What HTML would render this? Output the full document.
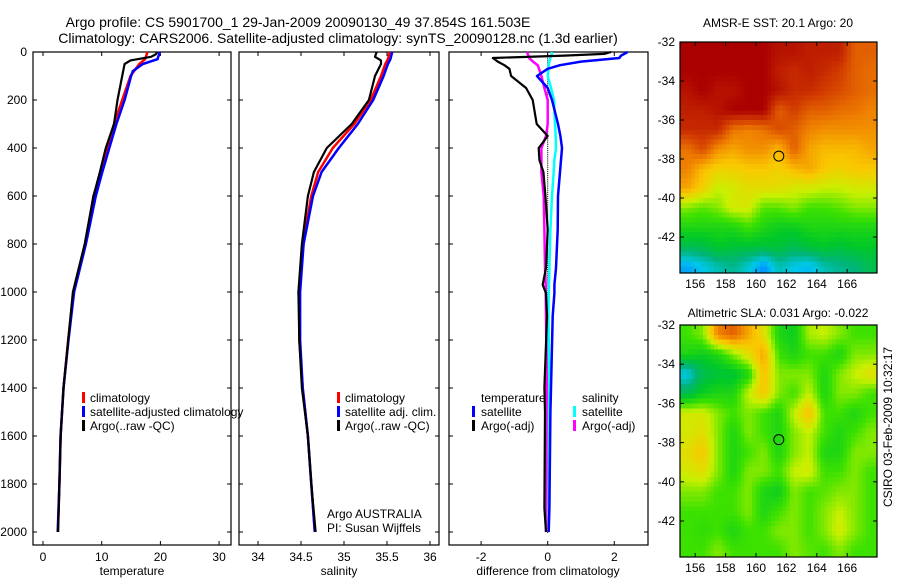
<!DOCTYPE html>
<html><head><meta charset="utf-8">
<style>
html,body{margin:0;padding:0;background:#fff;}
svg{display:block;font-family:"Liberation Sans",Arial,sans-serif;}
</style></head>
<body>
<svg id="chart" width="900" height="580" viewBox="0 0 900 580" xmlns="http://www.w3.org/2000/svg">
<text x="298" y="27" font-size="14" text-anchor="middle">Argo profile: CS 5901700_1 29-Jan-2009 20090130_49 37.854S 161.503E</text>
<text x="338" y="43" font-size="14" text-anchor="middle">Climatology: CARS2006. Satellite-adjusted climatology: synTS_20090128.nc (1.3d earlier)</text>
<text x="778" y="27" font-size="12" text-anchor="middle">AMSR-E SST: 20.1 Argo: 20</text>
<text x="778" y="317" font-size="12" text-anchor="middle">Altimetric SLA: 0.031 Argo: -0.022</text>
<text transform="translate(892,427) rotate(-90)" font-size="12" text-anchor="middle">CSIRO 03-Feb-2009 10:32:17</text>
<g id="g"></g>
</svg>
<script>
// ---------- data ----------
const depthTop = [0,30,50,100,200,300,400,500,600,800,1000,1200,1400,1600,1800,2000];
const tempClim = [17.8,17.4,16.4,14.9,13.5,12.1,11.0,9.9,8.6,7.2,5.2,4.3,3.5,3.0,2.8,2.55];
const depthSat = [0,30,50,80,100,200,300,400,500,600,800,1000,1200,1400,1600,1800,2000];
const tempSat  = [19.9,19.5,17.0,15.3,15.0,13.9,12.5,11.3,10.1,9.0,7.3,5.3,4.35,3.5,3.0,2.8,2.5];
const depthArgo = [0,10,20,35,50,100,200,300,400,500,600,800,1000,1200,1400,1600,1800,2000];
const tempArgo  = [19.5,19.2,18.4,14.9,13.9,13.5,12.7,12.1,10.7,9.7,8.6,7.1,5.1,4.3,3.5,3.0,2.8,2.55];
const salClim = [35.53,35.51,35.48,35.43,35.31,35.12,34.87,34.70,34.62,34.52,34.48,34.48,34.52,34.58,34.62,34.66];
const salSat  = [35.56,35.54,35.51,35.48,35.46,35.34,35.16,34.94,34.74,34.64,34.53,34.49,34.49,34.52,34.58,34.62,34.66];
const salArgo = [35.38,35.37,35.36,35.43,35.43,35.36,35.29,35.09,34.80,34.65,34.58,34.51,34.47,34.48,34.51,34.58,34.62,34.67];
const depthDiff = [0,8,15,25,40,55,70,100,150,200,300,350,400,450,500,600,740,900,970,1005,1100,1400,1500,1900,2000];
const diffTempArgo = [1.9,1.7,0.5,-1.65,-1.5,-1.3,-1.15,-1.1,-0.65,-0.45,-0.33,0,-0.27,-0.25,-0.13,-0.07,0,-0.05,-0.15,-0.05,-0.02,-0.1,-0.08,-0.1,-0.05];
const diffTempSat  = [2.4,2.3,2.2,2.15,1.0,0.37,0,-0.32,0,0.13,0.31,0.38,0.43,0.4,0.37,0.31,0.3,0.25,0.2,0.2,0.15,0.1,0.08,0.05,0.03];
const diffSalSat   = [0.13,0.12,0.1,0.08,0.05,0.03,0.02,0,0.1,0.19,0.22,0.24,0.25,0.2,0.18,0.13,0.08,0.05,0.04,0.03,0.02,0.05,0.04,0.03,0.03];
const diffSalArgo  = [-0.62,-0.6,-0.58,-0.56,-0.44,-0.3,-0.26,-0.19,-0.1,0,0,-0.05,-0.19,-0.19,-0.19,-0.12,-0.1,-0.08,-0.06,-0.06,-0.05,-0.03,-0.03,-0.05,-0.05];
const depthTicks = [0,200,400,600,800,1000,1200,1400,1600,1800,2000];
const tempTicks = [0,10,20,30];
const salTicks = [34,34.5,35,35.5,36];
const diffTicks = [-2,0,2];
const lonTicks = [156,158,160,162,164,166];
const latTicks = [-32,-34,-36,-38,-40,-42];
const mapLons = [155,156,157,158,159,160,161,162,163,164,165,166,167];
const mapLats = [-32,-33,-34,-35,-36,-37,-38,-39,-40,-41,-42,-43];
const sstGrid = [
[1,1,1,1,1,1,0.97,0.97,0.95,0.95,0.95,0.85,0.85],
[1,1,1,1,1,1,0.95,0.93,0.95,0.93,0.9,0.85,0.83],
[0.97,1,0.97,0.97,1,1,0.97,0.93,0.93,0.9,0.88,0.85,0.83],
[0.95,0.95,0.97,1,1,1,0.85,0.9,0.85,0.85,0.83,0.82,0.8],
[0.93,0.93,0.93,0.82,0.8,0.82,0.88,0.85,0.8,0.78,0.78,0.78,0.78],
[0.82,0.88,0.78,0.75,0.78,0.78,0.72,0.85,0.75,0.72,0.72,0.72,0.75],
[0.8,0.72,0.68,0.68,0.7,0.7,0.68,0.72,0.75,0.7,0.68,0.7,0.7],
[0.75,0.68,0.6,0.62,0.65,0.65,0.65,0.62,0.62,0.6,0.6,0.62,0.62],
[0.55,0.52,0.55,0.62,0.62,0.52,0.52,0.55,0.5,0.5,0.52,0.55,0.55],
[0.45,0.45,0.45,0.45,0.5,0.45,0.42,0.42,0.45,0.45,0.45,0.45,0.45],
[0.35,0.36,0.4,0.38,0.38,0.38,0.38,0.35,0.38,0.4,0.38,0.4,0.4],
[0.15,0.2,0.25,0.28,0.22,0.12,0.25,0.2,0.18,0.25,0.28,0.3,0.35]];
const slaGrid = [
[0.5,0.55,0.8,0.85,0.75,0.65,0.45,0.42,0.58,0.6,0.55,0.5,0.5],
[0.45,0.42,0.45,0.55,0.65,0.75,0.5,0.45,0.5,0.5,0.45,0.55,0.55],
[0.2,0.35,0.38,0.38,0.45,0.72,0.55,0.55,0.55,0.45,0.55,0.6,0.65],
[0.35,0.42,0.45,0.45,0.6,0.7,0.55,0.5,0.6,0.45,0.55,0.55,0.5],
[0.62,0.62,0.55,0.5,0.55,0.5,0.45,0.6,0.72,0.5,0.5,0.45,0.5],
[0.62,0.65,0.55,0.45,0.55,0.5,0.45,0.55,0.6,0.5,0.45,0.5,0.55],
[0.65,0.7,0.55,0.45,0.5,0.55,0.45,0.55,0.6,0.45,0.45,0.55,0.55],
[0.62,0.65,0.55,0.45,0.55,0.55,0.5,0.6,0.62,0.5,0.5,0.55,0.5],
[0.55,0.55,0.5,0.5,0.55,0.45,0.42,0.55,0.5,0.52,0.55,0.55,0.5],
[0.5,0.5,0.5,0.5,0.55,0.45,0.5,0.55,0.5,0.55,0.6,0.55,0.5],
[0.5,0.48,0.5,0.45,0.5,0.5,0.55,0.55,0.5,0.55,0.62,0.55,0.5],
[0.5,0.5,0.55,0.5,0.5,0.5,0.5,0.55,0.52,0.5,0.55,0.5,0.5]];
const floatLon = 161.5, floatLat = -37.85;

// ---------- helpers ----------
const NS='http://www.w3.org/2000/svg';
const G=document.getElementById('g');
function mk(tag,attrs,parent){const e=document.createElementNS(NS,tag);for(const k in attrs)e.setAttribute(k,attrs[k]);(parent||G).appendChild(e);return e;}
const yD = d => 52 + 0.24*d;
const xT = t => 43 + 5.87*t;
const xS = s => 258 + 86*(s-34);
const xDf = v => 547.7 + 33.3*v;
const Y0=52, Y1=545;
function line(xs,ds,fx,color,w,name){
  const pts = xs.map((v,i)=>fx(v).toFixed(1)+','+yD(ds[i]).toFixed(1)).join(' ');
  const p=mk('polyline',{points:pts,fill:'none',stroke:color,'stroke-width':w,'stroke-linejoin':'round'});
  
  
}
function panel(x0,x1,name,leftLabels){
  const r=mk('rect',{x:x0,y:Y0,width:x1-x0,height:Y1-Y0,fill:'none',stroke:'#000','stroke-width':1.2});
  
  
  depthTicks.forEach(d=>{
    mk('line',{x1:x0,x2:x0+4,y1:yD(d),y2:yD(d),stroke:'#000'});
    mk('line',{x1:x1-4,x2:x1,y1:yD(d),y2:yD(d),stroke:'#000'});
    if(leftLabels){
      const t=mk('text',{x:x0-6,y:yD(d)+4,'font-size':12,'text-anchor':'end'});
      t.textContent=d;
      
      
    }
  });
}
function xticks(ticks,fx,fmt){
  ticks.forEach(v=>{
    mk('line',{x1:fx(v),x2:fx(v),y1:Y1,y2:Y1-4,stroke:'#000'});
    mk('line',{x1:fx(v),x2:fx(v),y1:Y0,y2:Y0+4,stroke:'#000'});
    const t=mk('text',{x:fx(v),y:561,'font-size':12,'text-anchor':'middle'});
    t.textContent=fmt(v);
    
    
  });
}
function label(x,y,txt,name,anchor){
  const t=mk('text',{x:x,y:y,'font-size':12,'text-anchor':anchor||'start'});
  t.textContent=txt;
  
  
}
function legendBar(x,y,color){mk('rect',{x:x,y:y-10,width:3,height:11,fill:color});}

// ---------- panel 1 temperature ----------
panel(33,231,'temperature-panel',true);
xticks(tempTicks,xT,v=>v);
label(132,575,'temperature','temperature-axis-title','middle');
line(tempClim,depthTop,xT,'#f00',2.5,'temp-climatology-line');
line(tempSat,depthSat,xT,'#00f',2.5,'temp-satellite-line');
line(tempArgo,depthArgo,xT,'#000',2.2,'temp-argo-line');
legendBar(82,402,'#f00');label(90,402,'climatology','legend-climatology');
legendBar(82,416,'#00f');label(90,416,'satellite-adjusted climatology','legend-satellite-adjusted');
legendBar(82,430,'#000');label(90,430,'Argo(..raw -QC)','legend-argo');

// ---------- panel 2 salinity ----------
panel(239,439,'salinity-panel',false);
xticks(salTicks,xS,v=>v);
label(339,575,'salinity','salinity-axis-title','middle');
line(salClim,depthTop,xS,'#f00',2.5,'sal-climatology-line');
line(salSat,depthSat,xS,'#00f',2.5,'sal-satellite-line');
line(salArgo,depthArgo,xS,'#000',2.2,'sal-argo-line');
legendBar(337,402,'#f00');label(345,402,'climatology','legend-climatology-2');
legendBar(337,416,'#00f');label(345,416,'satellite adj. clim.','legend-satellite-adj-2');
legendBar(337,430,'#000');label(345,430,'Argo(..raw -QC)','legend-argo-2');
label(327,518,'Argo AUSTRALIA','argo-australia-note');
label(327,532,'PI: Susan Wijffels','pi-note');

// ---------- panel 3 differences ----------
panel(449,648,'difference-panel',false);
xticks(diffTicks,xDf,v=>v);
label(548,575,'difference from climatology','difference-axis-title','middle');
for(let d=0; d<=2000; d+=8){mk('rect',{x:xDf(0)-0.5,y:yD(d),width:1,height:1,fill:'#000'});}
line(diffSalArgo,depthDiff,xDf,'#f0f',2.5,'diff-sal-argo-line');
line(diffSalSat,depthDiff,xDf,'#0ff',2.5,'diff-sal-satellite-line');
line(diffTempSat,depthDiff,xDf,'#00f',2.5,'diff-temp-satellite-line');
line(diffTempArgo,depthDiff,xDf,'#000',2.2,'diff-temp-argo-line');
label(481,402,'temperature','legend-temperature-header');
legendBar(472,416,'#00f');label(481,416,'satellite','legend-temp-satellite');
legendBar(472,430,'#000');label(481,430,'Argo(-adj)','legend-temp-argo');
label(582,402,'salinity','legend-salinity-header');
legendBar(573,416,'#0ff');label(582,416,'satellite','legend-sal-satellite');
legendBar(573,430,'#f0f');label(582,430,'Argo(-adj)','legend-sal-argo');

// ---------- maps ----------
const cmapStops = [[0,50,240],[0,130,255],[0,200,235],[0,180,120],[0,200,40],[60,225,0],[200,240,0],[250,200,0],[240,130,0],[210,60,0],[170,0,0]];
function cmap(v){
  v=Math.max(0,Math.min(1,v))*(cmapStops.length-1);
  const i=Math.min(cmapStops.length-2,Math.floor(v)), f=v-i;
  const a=cmapStops[i], b=cmapStops[i+1];
  return 'rgb('+a.map((c,k)=>Math.round(c+(b[k]-c)*f)).join(',')+')';
}
function sample(grid,fi,fj){
  const R=grid.length, C=grid[0].length;
  fi=Math.max(0,Math.min(R-1,fi)); fj=Math.max(0,Math.min(C-1,fj));
  const i0=Math.floor(fi), j0=Math.floor(fj), i1=Math.min(R-1,i0+1), j1=Math.min(C-1,j0+1);
  const di=fi-i0, dj=fj-j0;
  return grid[i0][j0]*(1-di)*(1-dj)+grid[i0][j1]*(1-di)*dj+grid[i1][j0]*di*(1-dj)+grid[i1][j1]*di*dj;
}
function map(grid,top,bottom,pxPerLat,name,id){
  const x0=680,x1=877;
  const xL=l=>x0+(l-155)*15.2;
  const yL=a=>top+(-32-a)*pxPerLat;
  const cp=mk('clipPath',{id:id});
  mk('rect',{x:x0,y:top,width:x1-x0,height:bottom-top},cp);
  const g=mk('g',{'clip-path':'url(#'+id+')','shape-rendering':'crispEdges'});
  
  
  const sub=4;
  for(let i=0;i<grid.length*sub;i++){
    for(let j=0;j<grid[0].length*sub;j++){
      const fi=(i+0.5)/sub-0.5, fj=(j+0.5)/sub-0.5;
      const v=sample(grid,fi,fj);
      const lon=mapLons[0]+j/sub, lat=mapLats[0]-i/sub;
      const r=mk('rect',{x:xL(lon).toFixed(2),y:yL(lat).toFixed(2),width:(15.2/sub+0.5).toFixed(2),height:(pxPerLat/sub+0.5).toFixed(2),fill:cmap(v)},g);
      
    }
  }
  const fr=mk('rect',{x:x0,y:top,width:x1-x0,height:bottom-top,fill:'none',stroke:'#000','stroke-width':1.2});
  
  
  lonTicks.forEach(l=>{
    mk('line',{x1:xL(l),x2:xL(l),y1:bottom,y2:bottom-4,stroke:'#000'});
    mk('line',{x1:xL(l),x2:xL(l),y1:top,y2:top+4,stroke:'#000'});
    const t=mk('text',{x:xL(l),y:bottom+15,'font-size':12,'text-anchor':'middle'});t.textContent=l;
    
    
  });
  latTicks.forEach(a=>{
    mk('line',{x1:x0,x2:x0+4,y1:yL(a),y2:yL(a),stroke:'#000'});
    mk('line',{x1:x1-4,x2:x1,y1:yL(a),y2:yL(a),stroke:'#000'});
    const t=mk('text',{x:x0-5,y:yL(a)+4,'font-size':12,'text-anchor':'end'});t.textContent=a;
    
    
  });
  const c=mk('circle',{cx:xL(floatLon),cy:yL(floatLat),r:5,fill:'none',stroke:'#000','stroke-width':1});
  
  
}
map(sstGrid,42,273,19.5,'sst-map','clipSST');
map(slaGrid,325,557,19.6,'sla-map','clipSLA');
</script>
</body></html>
